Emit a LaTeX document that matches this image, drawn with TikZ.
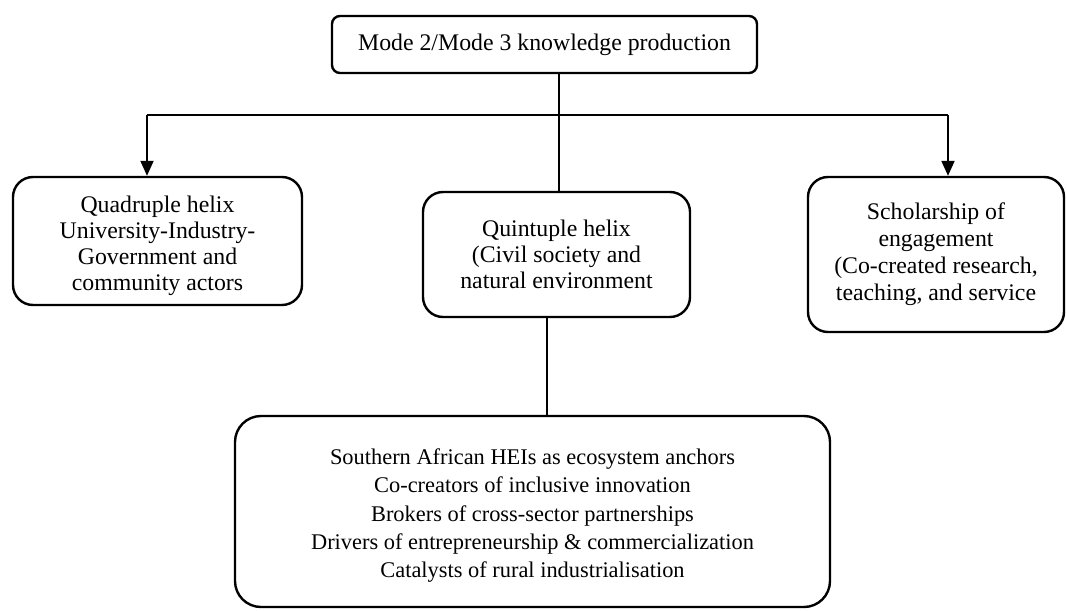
\documentclass[tikz,border=0pt]{standalone}
\usepackage{fontspec}
\setmainfont{Liberation Serif}
\usetikzlibrary{arrows.meta,calc}
\begin{document}
\begin{tikzpicture}[x=1pt,y=-1pt,
  box/.style={draw=black, line width=2.4pt, rounded corners=#1, inner sep=0pt, align=center,
    font=\fontsize{23.8}{26}\selectfont},
  box/.default=20pt,
  conn/.style={draw=black, line width=1.9pt},
  arr/.style={conn, -{Triangle[length=15pt,width=13pt]}}]
\useasboundingbox (0,0) rectangle (1067,610);
% top box
\node[box=8pt, minimum width=425pt, minimum height=57pt] (top) at (544.5,44.5)
  {Mode 2/Mode 3 knowledge production};
% left box
\node[box, minimum width=289pt, minimum height=128pt] (left) at (157.5,241)
  {\rule{0pt}{27pt}Quadruple helix\\University-Industry-\\Government and\\community actors};
% middle box
\node[box, minimum width=267pt, minimum height=125pt] (mid) at (556.5,254.5)
  {Quintuple helix\\(Civil society and\\natural environment};
% right box
\node[box, font=\fontsize{23.8}{27}\selectfont, minimum width=256pt, minimum height=155pt] (right) at (936,254.5)
  {Scholarship of\\engagement\\(Co-created research,\\teaching, and service};
% bottom box
\node[box=26pt, font=\fontsize{22.4}{28.3}\selectfont, minimum width=595pt, minimum height=191pt] (bot) at (532.5,511.5)
  {\rule{0pt}{24pt}Southern African HEIs as ecosystem anchors\\Co-creators of inclusive innovation\\Brokers of cross-sector partnerships\\Drivers of entrepreneurship \& commercialization\\Catalysts of rural industrialisation};
% connectors
\coordinate (hl) at (147,115);
\coordinate (hr) at (948,115);
\draw[conn] ([xshift=2.5pt]mid.north |- top.south) -- ([xshift=2.5pt]mid.north);
\draw[conn] (hl) -- (hr);
\draw[arr] (hl) -- (hl |- left.north);
\draw[arr] (hr) -- (hr |- right.north);
\draw[conn] ([xshift=-9.5pt]mid.south) -- ([xshift=-9.5pt]mid.south |- bot.north);
\end{tikzpicture}
\end{document}
